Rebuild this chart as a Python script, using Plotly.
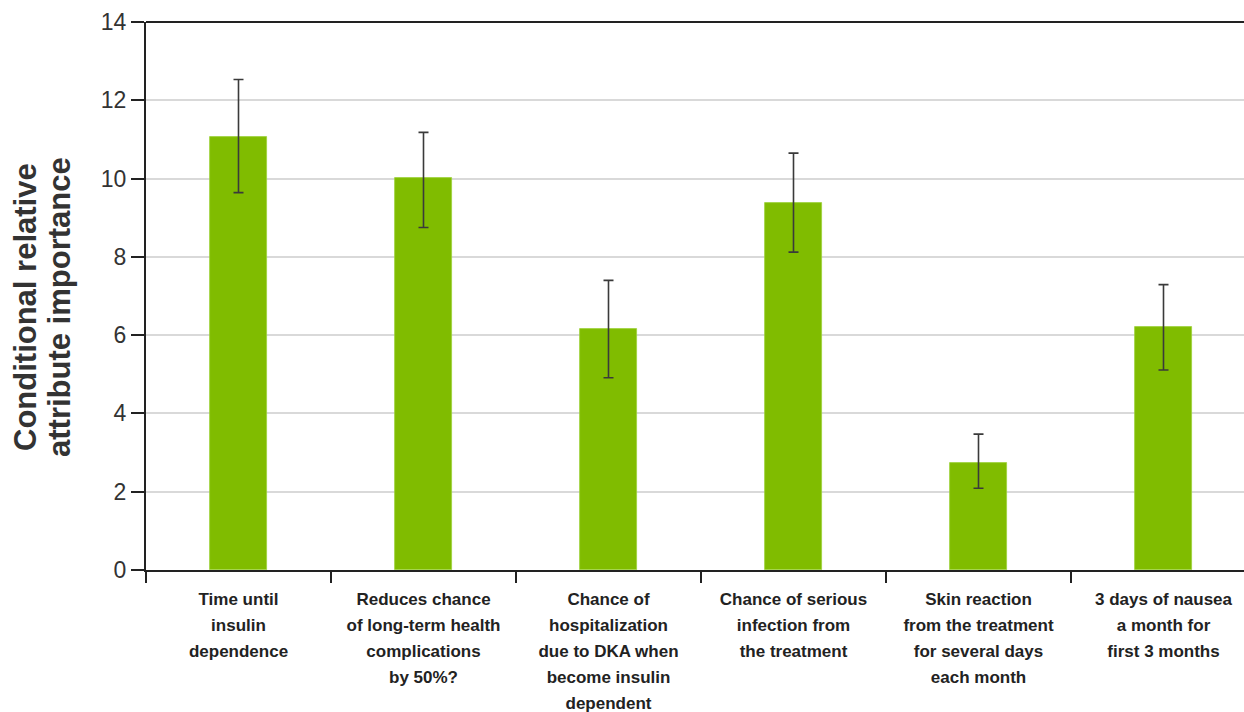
import plotly.graph_objects as go

# Attribute categories (x axis), one entry per line of each label
category_lines = [
    ["Time until", "insulin", "dependence"],
    ["Reduces chance", "of long-term health", "complications", "by 50%?"],
    ["Chance of", "hospitalization", "due to DKA when", "become insulin", "dependent"],
    ["Chance of serious", "infection from", "the treatment"],
    ["Skin reaction", "from the treatment", "for several days", "each month"],
    ["3 days of nausea", "a month for", "first 3 months"],
]

# Conditional relative attribute importance with confidence bounds
importance = [11.05, 10.02, 6.16, 9.38, 2.74, 6.20]
ci_upper = [12.53, 11.18, 7.40, 10.65, 3.47, 7.29]
ci_lower = [9.64, 8.75, 4.91, 8.12, 2.09, 5.11]

y_ticks = [0, 2, 4, 6, 8, 10, 12, 14]

err_plus = [u - v for u, v in zip(ci_upper, importance)]
err_minus = [v - l for v, l in zip(importance, ci_lower)]

AXIS_COLOR = "#222222"
TEXT_COLOR = "#333333"
BAR_COLOR = "#80bc00"

# Category keys and their displayed (multi-line) labels
categories = [" ".join(lines) for lines in category_lines]
label_text = [
    "<br>".join(f"<span style='font-size:17px'>{ln}</span>" for ln in lines)
    for lines in category_lines
]

fig = go.Figure(
    go.Bar(
        x=categories,
        y=importance,
        width=0.312,
        marker=dict(color=BAR_COLOR, line=dict(color="#9cd13a", width=0.8)),
        error_y=dict(
            type="data",
            symmetric=False,
            array=err_plus,
            arrayminus=err_minus,
            color="#3a3a3a",
            thickness=1.6,
            width=5,
        ),
    )
)

fig.update_layout(
    width=1244,
    height=712,
    margin=dict(l=146, r=0, t=22, b=142),
    paper_bgcolor="white",
    plot_bgcolor="white",
    showlegend=False,
    bargap=0.0,
)

fig.update_xaxes(
    type="category",
    range=[-0.5, 5.5 - 12 / 185],
    tickvals=categories,
    ticktext=label_text,
    tickangle=0,
    automargin=False,
    showline=True,
    linecolor=AXIS_COLOR,
    linewidth=2,
    ticks="outside",
    tickson="boundaries",
    ticklen=11,
    tickwidth=2,
    tickcolor=AXIS_COLOR,
    ticklabelstandoff=9,
    showgrid=False,
    zeroline=False,
    tickfont=dict(
        family="Liberation Sans Narrow, Arial Narrow, Liberation Sans, Arial, sans-serif",
        size=20,
        color="#222222",
        weight="bold",
    ),
)

fig.update_yaxes(
    range=[0, 14],
    tickvals=y_ticks,
    ticktext=[str(t) for t in y_ticks],
    automargin=False,
    showline=True,
    linecolor=AXIS_COLOR,
    linewidth=2,
    ticks="outside",
    ticklen=13,
    tickwidth=1.6,
    tickcolor=AXIS_COLOR,
    showgrid=True,
    gridcolor="#d9d9d9",
    gridwidth=1.6,
    zeroline=False,
    tickfont=dict(family="Liberation Sans, Arial, sans-serif", size=23, color=TEXT_COLOR),
)

# Frame line along the top of the plotting area
fig.add_shape(
    type="line",
    xref="paper",
    yref="paper",
    x0=0,
    x1=1,
    y0=1,
    y1=1,
    line=dict(color=AXIS_COLOR, width=2),
)

# Two-line vertical axis title
title_font = dict(family="Liberation Sans, Arial, sans-serif", size=31, color=TEXT_COLOR, weight="bold")
for text, xpix in [("Conditional relative", 25), ("attribute importance", 59)]:
    fig.add_annotation(
        text=text,
        xref="paper",
        yref="paper",
        x=0,
        y=0.5,
        xshift=xpix - 146,
        yshift=-11,
        xanchor="center",
        yanchor="middle",
        textangle=-90,
        showarrow=False,
        font=title_font,
    )

fig.write_html("out.html")
